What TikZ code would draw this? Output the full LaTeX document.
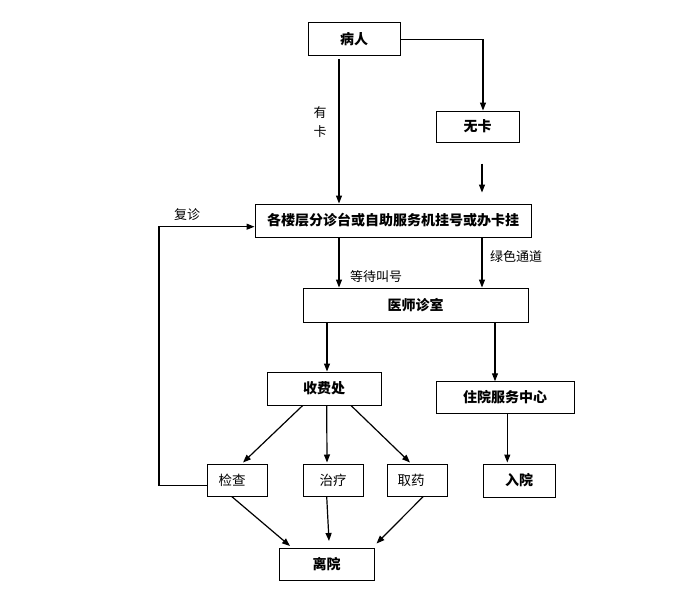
\documentclass[tikz,border=0pt]{standalone}
\usepackage{fontspec}
\setmainfont{Noto Sans CJK SC}
\usetikzlibrary{arrows.meta}
\tikzset{
  box/.style={draw, line width=1pt, inner sep=0pt, align=center, font=\fontsize{14}{16}\selectfont\bfseries},
  sbox/.style={draw, line width=1pt, inner sep=0pt, align=center, font=\fontsize{13.5}{16}\selectfont},
  lbl/.style={inner sep=0pt, font=\fontsize{13}{15}\selectfont},
  arr/.style={line width=1.2pt, -{Triangle[length=8pt,width=6pt]}},
  ln/.style={line width=1.2pt},
}
\begin{document}
\begin{tikzpicture}[x=1pt,y=-1pt]
\useasboundingbox (0,0) rectangle (693,602);
% nodes
\node[box, minimum width=92pt, minimum height=33pt] (bingren) at (354,39.5) {病人};
\node[box, minimum width=83pt, minimum height=31pt] (wuka) at (477.5,126.5) {无卡};
\node[box, minimum width=276pt, minimum height=33pt] (main) at (393,220.5) {各楼层分诊台或自助服务机挂号或办卡挂};
\node[box, minimum width=225pt, minimum height=34pt] (yishi) at (415.5,305) {医师诊室};
\node[box, minimum width=114pt, minimum height=33pt] (shoufei) at (324,388.5) {收费处};
\node[box, minimum width=138pt, minimum height=31.5pt] (zhuyuan) at (505,397.5) {住院服务中心};
\node[sbox, minimum width=60pt, minimum height=32pt] (jiancha) at (237,480) {\hspace*{-10pt}检查};
\node[sbox, minimum width=60pt, minimum height=32pt] (zhiliao) at (333,480) {治疗};
\node[sbox, minimum width=60pt, minimum height=32pt] (quyao) at (417,480) {\hspace*{-12pt}取药};
\node[box, minimum width=72pt, minimum height=33pt] (ruyuan) at (519,480.5) {入院};
\node[box, minimum width=95pt, minimum height=32pt] (liyuan) at (326.5,564) {离院};
% labels
\node[lbl] (you) at (320,113) {有};
\node[lbl] (ka) at (320,132) {卡};
\node[lbl] (fuzhen) at (187,215) {复诊};
\node[lbl] (dengdai) at (376,277) {等待叫号};
\node[lbl] (lvse) at (516,257) {绿色通道};
% connectors
\draw[arr] (bingren.east) -| ([xshift=5.5pt]wuka.north);
\draw[arr] ([xshift=-15pt,yshift=-3pt]bingren.south) -- ([xshift=-54pt]main.north);
\coordinate (wk1) at ([xshift=4.5pt,yshift=-21pt]wuka.south);
\coordinate (wk2) at ([xshift=89pt,yshift=11pt]main.north);
\draw[arr] (wk1) -- (wk2);
\draw[arr] ([xshift=-54pt]main.south) -- ([xshift=-76.5pt]yishi.north);
\draw[arr] ([xshift=89pt]main.south) -- ([xshift=66.5pt]yishi.north);
\draw[arr] ([xshift=-88.5pt]yishi.south) -- ([xshift=3pt]shoufei.north);
\draw[arr] ([xshift=79.5pt]yishi.south) -- ([xshift=-10pt]zhuyuan.north);
\draw[arr] ([xshift=-21.3pt]shoufei.south) -- ([xshift=6pt,yshift=1pt]jiancha.north);
\draw[arr] ([xshift=2.7pt]shoufei.south) -- ([xshift=-6pt,yshift=1pt]zhiliao.north);
\draw[arr] ([xshift=27pt]shoufei.south) -- ([xshift=-7pt,yshift=1pt]quyao.north);
\draw[arr] ([xshift=2.3pt]zhuyuan.south) -- ([xshift=-11.7pt,yshift=1pt]ruyuan.north);
\draw[arr] ([xshift=-5.3pt]jiancha.south) -- ([xshift=-36.5pt,yshift=1.5pt]liyuan.north);
\draw[arr] ([xshift=-6.3pt]zhiliao.south) -- ([xshift=2.5pt,yshift=6.5pt]liyuan.north);
\draw[arr] ([xshift=6.3pt]quyao.south) -- ([xshift=50pt,yshift=4pt]liyuan.north);
\coordinate (fb1) at (159,485.7);
\coordinate (fb2) at (159,226.7);
\draw[arr] ([yshift=-5.7pt]jiancha.west) -- (fb1) -- (fb2) -- ([yshift=-6.2pt]main.west);
\end{tikzpicture}
\end{document}
